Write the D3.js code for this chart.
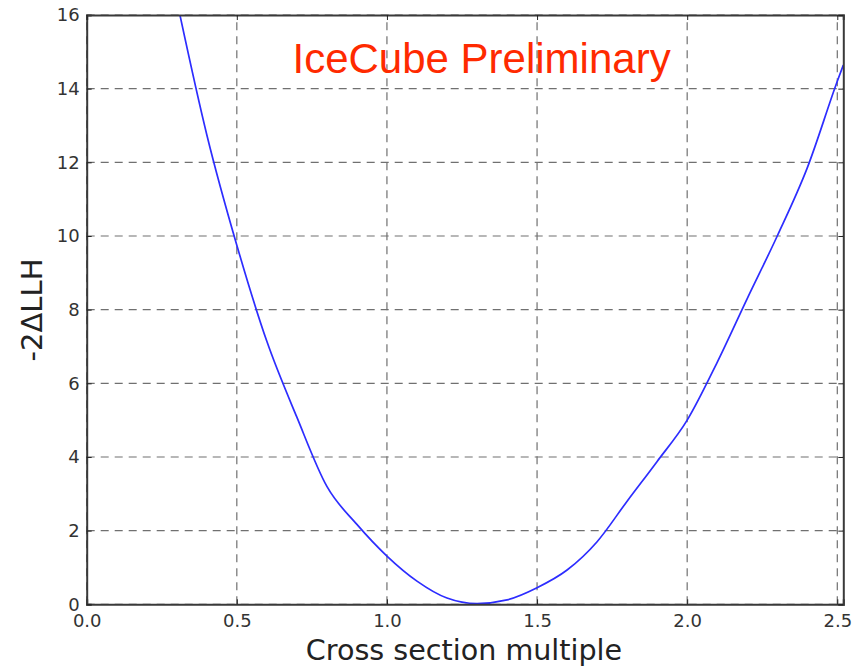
<!DOCTYPE html>
<html>
<head>
<meta charset="utf-8">
<script src="https://cdn.jsdelivr.net/npm/d3@7"></script>
<style>
  body { margin: 0; background: #fff; }
  svg { display: block; }
</style>
</head>
<body>
<div id="chart"></div>
<script>
// values
var xs = [0.3, 0.4, 0.5, 0.6, 0.7, 0.8, 0.9, 1.0, 1.1, 1.2, 1.3, 1.4, 1.5, 1.6, 1.7, 1.8, 1.9, 2.0, 2.1, 2.2, 2.3, 2.4, 2.5, 2.52];
var llh = [16.4, 12.75, 9.75, 7.14, 5.08, 3.2, 2.17, 1.31, 0.63, 0.17, 0.02, 0.12, 0.45, 0.93, 1.7, 2.8, 3.88, 5.0, 6.57, 8.3, 10.0, 11.85, 14.2, 14.64];
var xTicks = [0.0, 0.5, 1.0, 1.5, 2.0, 2.5];
var yTicks = [0, 2, 4, 6, 8, 10, 12, 14, 16];

var width = 861, height = 666;
var plotL = 86.7, plotR = 843.3, plotT = 15, plotB = 604.3;

var svg = d3.select('#chart').append('svg')
	.attr('width', width).attr('height', height);

var x = d3.scaleLinear().domain([0, 2.52]).range([plotL, plotR]);
var y = d3.scaleLinear().domain([0, 16]).range([plotB, plotT]);

svg.append('clipPath').attr('id', 'plotclip')
	.append('rect').attr('x', plotL).attr('y', plotT)
	.attr('width', plotR - plotL).attr('height', plotB - plotT);

// dashed grid
var grid = svg.append('g').attr('stroke', '#707070').attr('stroke-width', 1.2)
	.attr('stroke-dasharray', '8,6');
grid.selectAll('.gx').data(xTicks).enter().append('line')
	.attr('x1', function(d) { return x(d); }).attr('x2', function(d) { return x(d); })
	.attr('y1', plotB).attr('y2', plotT);
grid.selectAll('.gy').data(yTicks).enter().append('line')
	.attr('y1', function(d) { return y(d); }).attr('y2', function(d) { return y(d); })
	.attr('x1', plotL).attr('x2', plotR);

// the curve
var line = d3.line()
	.x(function(d, i) { return x(xs[i]); })
	.y(function(d) { return y(d); })
	.curve(d3.curveMonotoneX);

svg.append('path').datum(llh)
	.attr('clip-path', 'url(#plotclip)')
	.attr('d', line)
	.attr('fill', 'none')
	.attr('stroke', '#2d2dff')
	.attr('stroke-width', 1.7);

// axes, ticks pointing inward
var fmtX = d3.format('.1f');
var axB = svg.append('g').attr('transform', 'translate(0,' + plotB + ')')
	.call(d3.axisBottom(x).tickValues(xTicks).tickFormat(fmtX).tickSize(-5).tickPadding(10));
var axL = svg.append('g').attr('transform', 'translate(' + plotL + ',0)')
	.call(d3.axisLeft(y).tickValues(yTicks).tickFormat(d3.format('d')).tickSize(-5).tickPadding(7));
var axT = svg.append('g').attr('transform', 'translate(0,' + plotT + ')')
	.call(d3.axisTop(x).tickValues(xTicks).tickFormat('').tickSize(-5));
var axR = svg.append('g').attr('transform', 'translate(' + plotR + ',0)')
	.call(d3.axisRight(y).tickValues(yTicks).tickFormat('').tickSize(-5));

[axB, axL, axT, axR].forEach(function(ax) {
	ax.attr('font-size', null);
	ax.select('.domain').attr('stroke', '#3a3a3a').attr('stroke-width', 2);
	ax.selectAll('.tick line').attr('stroke', '#222').attr('stroke-width', 1);
	ax.selectAll('.tick text')
		.attr('fill', '#333')
		.style('font-family', '"DejaVu Sans", sans-serif')
		.style('font-size', '18px');
});

// labels
svg.append('text')
	.attr('x', 464).attr('y', 660)
	.attr('text-anchor', 'middle')
	.style('font-family', '"DejaVu Sans", sans-serif')
	.style('font-size', '28.6px')
	.attr('fill', '#222')
	.text('Cross section multiple');

svg.append('text')
	.attr('transform', 'translate(42,310) rotate(-90)')
	.attr('text-anchor', 'middle')
	.style('font-family', '"DejaVu Sans", sans-serif')
	.style('font-size', '29px')
	.attr('fill', '#222')
	.text('-2\u0394LLH');

svg.append('text')
	.attr('x', 292.5).attr('y', 73.3)
	.style('font-family', '"Liberation Sans", Arial, sans-serif')
	.style('font-size', '42px')
	.attr('fill', '#ff2a00')
	.text('IceCube Preliminary');
</script>
</body>
</html>
